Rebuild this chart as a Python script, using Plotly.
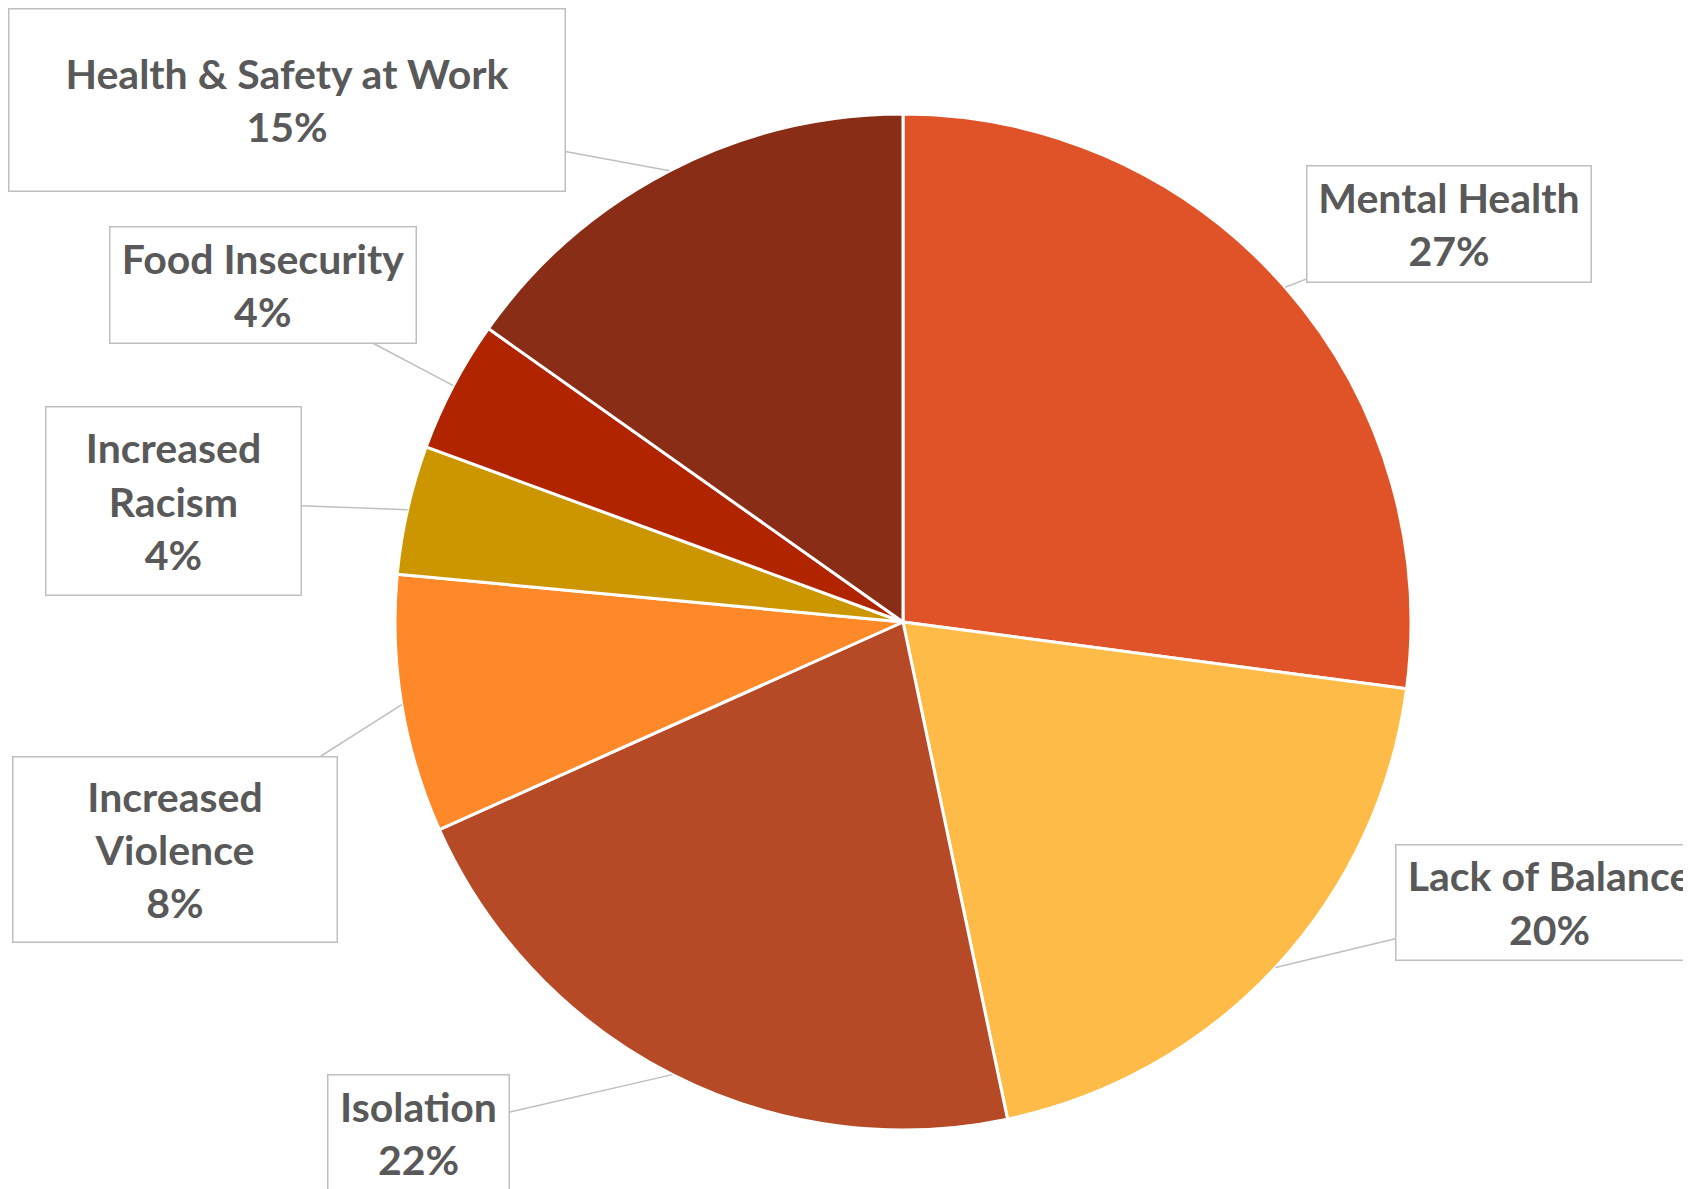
import math
import plotly.graph_objects as go

categories = ["Mental Health", "Lack of Balance", "Isolation", "Increased Violence",
              "Increased Racism", "Food Insecurity", "Health & Safety at Work"]
display_names = ["Mental Health", "Lack of Balance", "Isolation", "Increased<br>Violence",
                 "Increased<br>Racism", "Food Insecurity", "Health & Safety at Work"]
values = [27.1, 19.6, 21.6, 8.2, 4.1, 4.2, 15.2]
colors = ["#E05328", "#FFBB47", "#B64A27", "#FF8829", "#CC9600", "#B02500", "#8A2D16"]

W, H = 1691, 1189
OFF = 8  # page body margin
cx, cy, R = 903 - OFF, 622 - OFF, 508  # pixel geometry of the pie

# label box centres (px, from top-left of the page) and sizes
box_cx = [1449, 1549, 418, 175, 173, 263, 287]
box_cy = [224, 902, 1133, 849, 501, 285, 100]
box_w = [281, 304, 178, 321, 252, 303, 553]
box_h = [113, 112, 113, 182, 185, 113, 179]
box_cx = [v - OFF for v in box_cx]
box_cy = [v - OFF for v in box_cy]

fig = go.Figure(go.Pie(
    labels=categories, values=values, sort=False, direction="clockwise", rotation=0,
    marker=dict(colors=colors, line=dict(color="white", width=3)),
    textinfo="none", hoverinfo="label+percent",
    domain=dict(x=[(cx - R) / W, (cx + R) / W], y=[(H - cy - R) / H, (H - cy + R) / H]),
))

total = sum(values)
cum = 0.0
annotations = []
for i, v in enumerate(values):
    mid = (cum + v / 2) / total * 2 * math.pi
    cum += v
    px = cx + R * math.sin(mid)
    py = cy - R * math.cos(mid)
    pct = round(v / total * 100)
    annotations.append(dict(
        x=px / W, y=1 - py / H, xref="paper", yref="paper",
        text=f"{display_names[i]}<br>{pct}%",
        showarrow=True, arrowhead=0, arrowwidth=1.5, arrowcolor="#BFBFBF",
        axref="pixel", ayref="pixel",
        ax=box_cx[i] - px, ay=box_cy[i] - py,
        width=box_w[i], height=box_h[i], align="center", valign="middle",
        bordercolor="#BFBFBF", borderwidth=1.5, bgcolor="white",
        font=dict(family="Lato", size=41, color="#595959", weight="bold"),
    ))

fig.update_layout(
    width=W, height=H, margin=dict(l=0, r=0, t=0, b=0),
    paper_bgcolor="white", plot_bgcolor="white", showlegend=False,
    annotations=annotations,
)
fig.write_html("out.html")
